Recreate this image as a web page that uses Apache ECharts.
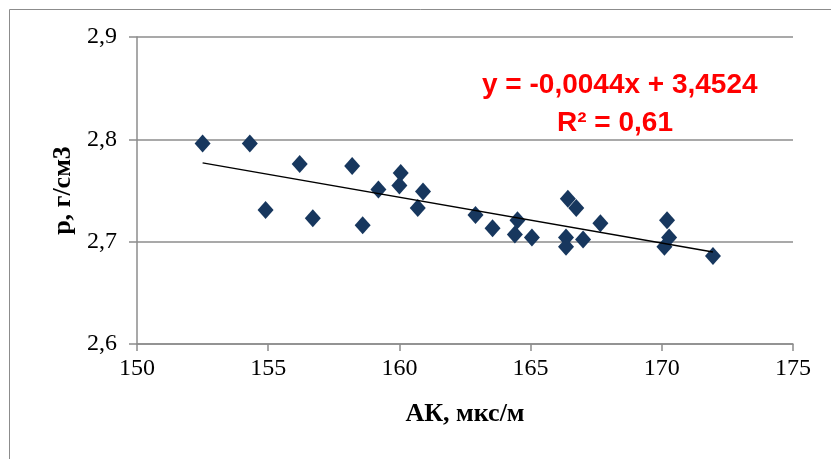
<!DOCTYPE html>
<html>
<head>
<meta charset="utf-8">
<script src="https://cdn.jsdelivr.net/npm/echarts@6/dist/echarts.min.js"></script>
<style>
html,body{margin:0;padding:0;background:#fff;}
#c{width:831px;height:459px;}
</style>
</head>
<body>
<div id="c"></div>
<script>
// Data
const akValues = [152.5, 154.3, 154.9, 156.2, 156.7, 158.2, 158.6, 159.2, 160.05, 160.0, 160.9, 160.7,
  162.9, 163.55, 164.5, 164.4, 165.05, 166.35, 166.35, 166.42, 166.74, 167.0, 167.66, 170.2, 170.28, 170.1, 171.95];
const rhoValues = [2.796, 2.796, 2.731, 2.776, 2.723, 2.774, 2.716, 2.751, 2.767, 2.755, 2.749, 2.733,
  2.726, 2.713, 2.721, 2.707, 2.704, 2.704, 2.695, 2.742, 2.733, 2.702, 2.718, 2.721, 2.704, 2.695, 2.686];
const trendX = [152.5, 171.95];
const trendY = [2.777, 2.690];
const xTicks = [150, 155, 160, 165, 170, 175];
const yTicks = [2.6, 2.7, 2.8, 2.9];
const eqLine1 = 'y = -0,0044x + 3,4524';
const eqLine2 = 'R² = 0,61';

const chart = echarts.init(document.getElementById('c'), null, {renderer: 'canvas'});
const points = akValues.map((v, i) => [v, rhoValues[i]]);
const trend = trendX.map((v, i) => [v, trendY[i]]);
const gridColor = '#8c8c8c';
chart.setOption({
  animation: false,
  backgroundColor: '#fff',
  grid: {left: 137, right: 38, top: 37, bottom: 115},
  xAxis: {
    type: 'value', min: xTicks[0], max: xTicks[xTicks.length - 1], interval: 5,
    name: 'АК, мкс/м', nameLocation: 'middle', nameGap: 57,
    nameTextStyle: {fontFamily: 'Liberation Serif', fontWeight: 'bold', fontSize: 26, color: '#000'},
    axisLine: {show: true, lineStyle: {color: gridColor, width: 1.5}},
    axisTick: {show: true, length: 7, inside: false, lineStyle: {color: gridColor, width: 1.5}},
    axisLabel: {fontFamily: 'Liberation Serif', fontSize: 24, color: '#000', margin: 13},
    splitLine: {show: false}
  },
  yAxis: {
    type: 'value', min: yTicks[0], max: yTicks[yTicks.length - 1], interval: 0.1,
    name: 'р, г/см3', nameLocation: 'middle', nameGap: 60,
    nameTextStyle: {fontFamily: 'Liberation Serif', fontWeight: 'bold', fontSize: 26, color: '#000'},
    axisLine: {show: true, lineStyle: {color: gridColor, width: 1.5}},
    axisTick: {show: true, length: 8, lineStyle: {color: gridColor, width: 1.5}},
    axisLabel: {fontFamily: 'Liberation Serif', fontSize: 24, color: '#000', margin: 20,
      formatter: v => v.toFixed(1).replace('.', ',')},
    splitLine: {show: true, lineStyle: {color: gridColor, width: 1.5}}
  },
  series: [
    {
      type: 'line', data: trend, symbol: 'none', z: 3,
      lineStyle: {color: '#000', width: 1.5}
    },
    {
      type: 'scatter', data: points, symbol: 'diamond', symbolSize: [16, 18], z: 2,
      itemStyle: {color: '#17375E', opacity: 1}
    }
  ],
  graphic: [
    {type: 'rect', silent: true, shape: {x: 9.5, y: 9.5, width: 900, height: 500},
      style: {fill: 'none', stroke: '#8c8c8c', lineWidth: 1}},
    {type: 'text', left: 482, top: 71, style: {text: eqLine1, fill: '#ff0000',
      font: 'bold 28px "Liberation Sans"'}},
    {type: 'text', left: 557, top: 109, style: {text: eqLine2, fill: '#ff0000',
      font: 'bold 28px "Liberation Sans"'}}
  ]
});
</script>
</body>
</html>
